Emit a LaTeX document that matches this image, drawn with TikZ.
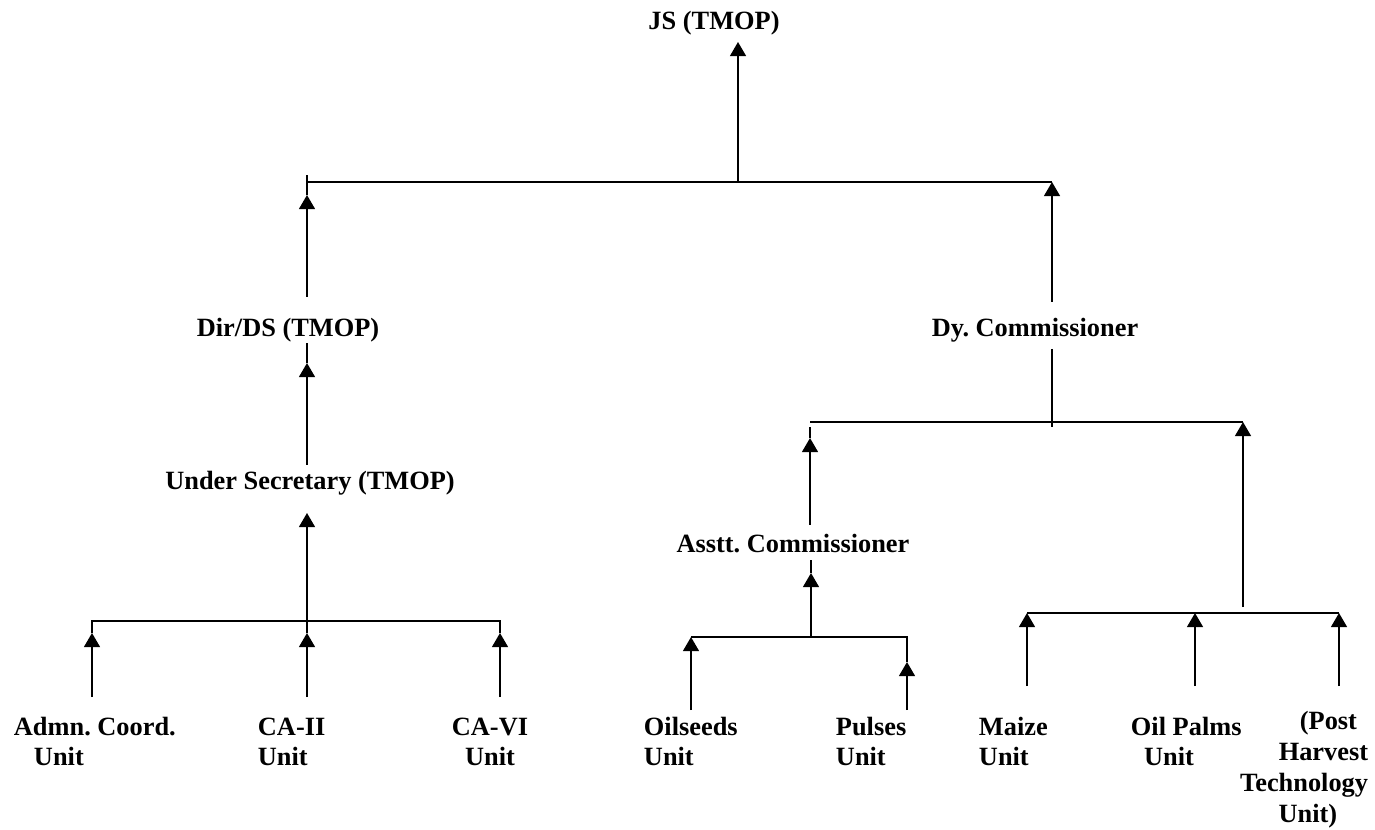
\documentclass[tikz,border=0pt]{standalone}
\usepackage{fontspec}
\setmainfont{Liberation Serif}
\usetikzlibrary{arrows.meta,positioning}
\frenchspacing

\begin{document}
\begin{tikzpicture}[x=0.02cm, y=-0.02cm, line width=1.1pt,
        >={Triangle[width=9pt,length=8pt]},
        post/.style={font=\fontsize{15}{17}\selectfont\bfseries, inner sep=0pt},
        unit/.style={post, anchor=base west, align=left}]
                \useasboundingbox (0, 0) rectangle (1375, 830);

                % Nodes
                \node[post, anchor=base] at (714, 30) (js) {JS (TMOP)};
                \node[post, anchor=base] at (288, 337) (dir) {Dir/DS (TMOP)};
                \node[post, anchor=base] at (1035, 337) (dy) {Dy. Commissioner};
                \node[post, anchor=base] at (310, 490) (us) {Under Secretary (TMOP)};
                \node[post, anchor=base] at (793, 553) (ac) {Asstt. Commissioner};
                % (base of a two-line unit is its last line)
                \node[unit] at (13, 765) (admn) {Admn. Coord.\\\hspace*{0.76em}Unit};
                \node[unit] at (257, 765) (caii) {CA-II\\Unit};
                \node[unit, anchor=base, align=center] at (490, 765) (cavi) {CA-VI\\Unit};
                \node[unit] at (643, 765) (oil) {Oilseeds\\Unit};
                \node[unit] at (835, 765) (pulses) {Pulses\\Unit};
                \node[unit] at (978, 765) (maize) {Maize\\Unit};
                \node[unit] at (1130, 765) (palm) {Oil Palms\\\hspace*{0.5em}Unit};
                \node[unit, anchor=base east, align=right, font=\fontsize{15}{17.5}\selectfont\bfseries] at (1369, 822) (pht) {(Post\hspace*{0.42em}\\Harvest\\Technology\\Unit)\hspace*{1.17em}};

                % Junctions
                \coordinate (jsbar) at (738, 182);
                \coordinate (jstip) at (738, 42);
                \coordinate (dirbar) at (307, 182);
                \coordinate (dybar) at (1052, 182);
                \coordinate (dirup) at (307, 297);
                \coordinate (dirtip) at (307, 195);
                \coordinate (dirend) at (307, 175);
                \coordinate (dyup) at (1052, 302);

                \coordinate (usup) at (307, 465);
                \coordinate (ustip) at (307, 363);
                \coordinate (usend) at (307, 343);
                \coordinate (usbar) at (307, 621);
                \coordinate (ustop) at (307, 513);
                \coordinate (admnbar) at (92, 621);
                \coordinate (admntip) at (92, 633);
                \coordinate (admnup) at (92, 697);
                \coordinate (caiitip) at (307, 633);
                \coordinate (caiiup) at (307, 697);
                \coordinate (cavibar) at (500, 621);
                \coordinate (cavitip) at (500, 633);
                \coordinate (caviup) at (500, 697);

                \coordinate (dydown) at (1052, 349);
                \coordinate (dyend) at (1052, 427);
                \coordinate (acbar) at (810, 422);
                \coordinate (acend) at (810, 427);
                \coordinate (actip) at (810, 438);
                \coordinate (acup) at (810, 525);
                \coordinate (acdown) at (811, 560);
                \coordinate (actip2) at (811, 573);
                \coordinate (acfoot) at (811, 637);
                \coordinate (oilbar) at (691, 637);
                \coordinate (oilup) at (691, 710);
                \coordinate (pulsesbar) at (907, 637);
                \coordinate (pulsestip) at (907, 662);
                \coordinate (pulsesup) at (907, 710);

                \coordinate (unitsbar) at (1243, 422);
                \coordinate (unitsup) at (1243, 607);
                \coordinate (maizebar) at (1027, 613);
                \coordinate (maizeup) at (1027, 686);
                \coordinate (palmbar) at (1195, 613);
                \coordinate (palmup) at (1195, 686);
                \coordinate (phtbar) at (1339, 613);
                \coordinate (phtup) at (1339, 686);

                % Top level
                \draw (dirbar) -- (dybar);
                \draw[->] (jsbar) -- (jstip);
                \draw[->] (dirup) -- (dirtip);
                \draw (dirtip) -- (dirend);
                \draw[->] (dyup) -- (dybar);

                % Dir/DS side
                \draw[->] (usup) -- (ustip);
                \draw (ustip) -- (usend);
                \draw[->] (usbar) -- (ustop);
                \draw (admntip) -- (admnbar) -- (cavibar) -- (cavitip);
                \draw[->] (admnup) -- (admntip);
                \draw[->] (caiiup) -- (caiitip);
                \draw (caiitip) -- (usbar);
                \draw[->] (caviup) -- (cavitip);

                % Dy. Commissioner side
                \draw (dydown) -- (dyend);
                \draw (acbar) -- (unitsbar);
                \draw[->] (acup) -- (actip);
                \draw (actip) -- (acend);
                \draw[->] (acfoot) -- (actip2);
                \draw (actip2) -- (acdown);
                \draw (pulsestip) -- (pulsesbar) -- (oilbar);
                \draw[->] (oilup) -- (oilbar);
                \draw[->] (pulsesup) -- (pulsestip);

                \draw[->] (unitsup) -- (unitsbar);
                \draw (maizebar) -- (phtbar);
                \draw[->] (maizeup) -- (maizebar);
                \draw[->] (palmup) -- (palmbar);
                \draw[->] (phtup) -- (phtbar);

            \end{tikzpicture}
\end{document}
